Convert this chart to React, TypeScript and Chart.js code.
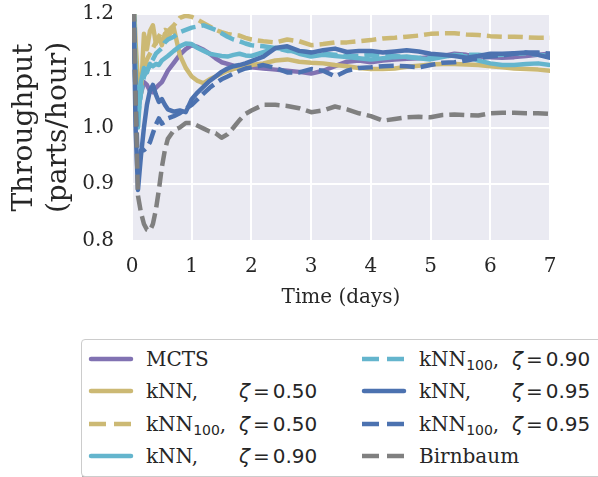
import React, { useEffect, useRef } from "react";
import { Chart, registerables } from "chart.js";

Chart.register(...registerables);

// ---------------- DATA ----------------
const times = [
  0.02, 0.06, 0.1, 0.15, 0.2, 0.25, 0.3, 0.35, 0.4, 0.45, 0.5, 0.55, 0.6, 0.7, 0.8, 0.9,
  1.0, 1.1, 1.2, 1.3, 1.4, 1.5, 1.6, 1.7, 1.8, 1.9, 2.0, 2.2, 2.4, 2.6, 2.8, 3.0,
  3.2, 3.4, 3.6, 3.8, 4.0, 4.2, 4.4, 4.6, 4.8, 5.0, 5.2, 5.4, 5.6, 5.8, 6.0, 6.2,
  6.4, 6.6, 6.8, 7.0,
];

const mcts = [
  1.25, 1.1, 1.03, 1.06, 1.08, 1.075, 1.065, 1.062, 1.07, 1.075, 1.08, 1.09, 1.1, 1.114, 1.128, 1.138,
  1.145, 1.142, 1.137, 1.13, 1.122, 1.115, 1.112, 1.109, 1.108, 1.107, 1.106, 1.104, 1.102, 1.1, 1.098, 1.095,
  1.1, 1.108, 1.116, 1.118, 1.115, 1.118, 1.12, 1.121, 1.122, 1.124, 1.126, 1.13, 1.128, 1.125, 1.124, 1.123,
  1.124, 1.126, 1.128, 1.13,
];

const knn50 = [
  1.25, 1.15, 1.08, 1.06, 1.165, 1.138, 1.17, 1.18, 1.148, 1.16, 1.145, 1.165, 1.16, 1.175, 1.128, 1.105,
  1.09, 1.082, 1.078, 1.085, 1.09, 1.095, 1.1, 1.103, 1.106, 1.108, 1.11, 1.113, 1.118, 1.12, 1.116, 1.114,
  1.113, 1.11, 1.108, 1.105, 1.103, 1.103, 1.104, 1.107, 1.109, 1.111, 1.112, 1.112, 1.111, 1.11, 1.108, 1.106,
  1.104, 1.103, 1.102, 1.1,
];

const knn100_50 = [
  1.25, 1.1, 1.05, 1.08, 1.1, 1.12, 1.13, 1.14, 1.15, 1.16, 1.17, 1.172, 1.17, 1.18, 1.193, 1.197,
  1.195, 1.19, 1.184, 1.178, 1.172, 1.168, 1.165, 1.163, 1.162, 1.158, 1.155, 1.152, 1.15, 1.155, 1.152, 1.145,
  1.147, 1.15, 1.15, 1.152, 1.154, 1.157, 1.158, 1.16, 1.162, 1.165, 1.166, 1.166, 1.164, 1.163, 1.161, 1.16,
  1.16, 1.159, 1.158, 1.158,
];

const knn90 = [
  1.25, 1.1, 1.0, 1.08, 1.105, 1.097, 1.112, 1.108, 1.112, 1.11, 1.118, 1.122, 1.126, 1.135, 1.143, 1.148,
  1.147, 1.14, 1.135, 1.13, 1.128, 1.126, 1.125, 1.128, 1.13, 1.127, 1.126, 1.133, 1.14, 1.138, 1.13, 1.125,
  1.128, 1.126, 1.124, 1.122, 1.12, 1.122, 1.124, 1.125, 1.122, 1.12, 1.124, 1.128, 1.125, 1.118, 1.113, 1.11,
  1.11, 1.112, 1.113, 1.11,
];

const knn100_90 = [
  1.25, 1.06, 1.02, 1.06, 1.09, 1.1, 1.11, 1.12, 1.13, 1.135, 1.14, 1.15, 1.155, 1.16, 1.168, 1.172,
  1.176, 1.178, 1.18, 1.176, 1.172, 1.166, 1.16, 1.155, 1.152, 1.148, 1.145, 1.143, 1.14, 1.135, 1.135, 1.132,
  1.13, 1.128, 1.126, 1.126, 1.128, 1.127, 1.126, 1.124, 1.123, 1.122, 1.125, 1.127, 1.128, 1.128, 1.127, 1.128,
  1.13, 1.131, 1.128, 1.126,
];

const knn95 = [
  1.25, 1.0, 0.89, 0.95, 1.0, 1.04, 1.065, 1.075, 1.058, 1.045, 1.05, 1.04, 1.032, 1.028, 1.03, 1.027,
  1.05, 1.062, 1.072, 1.082, 1.09, 1.098, 1.104, 1.108, 1.11, 1.113, 1.117, 1.125, 1.14, 1.143, 1.135, 1.132,
  1.136, 1.139, 1.133, 1.135, 1.135, 1.132, 1.134, 1.136, 1.134, 1.13, 1.128, 1.126, 1.123, 1.126, 1.13, 1.13,
  1.131, 1.132, 1.128, 1.123,
];

const knn100_95 = [
  1.25, 1.05, 0.93, 0.96, 0.96, 0.965, 0.974, 0.99, 1.005, 1.016, 1.007, 1.01, 1.016, 1.02, 1.025, 1.033,
  1.04, 1.05, 1.06, 1.07, 1.078, 1.085, 1.09, 1.095, 1.1, 1.104, 1.106, 1.11, 1.105, 1.097, 1.097, 1.103,
  1.1, 1.09, 1.1, 1.105, 1.106, 1.108, 1.109, 1.108, 1.106, 1.11, 1.114, 1.115, 1.118, 1.122, 1.125, 1.127,
  1.13, 1.132, 1.132, 1.13,
];

const birnbaum = [
  1.25, 1.05, 0.88, 0.85, 0.83, 0.82, 0.818, 0.83, 0.855, 0.89, 0.93, 0.96, 0.98, 0.995, 1.0, 1.008,
  1.008, 1.003, 0.998, 0.993, 0.99, 0.982, 0.988, 1.0, 1.013, 1.024, 1.03, 1.04, 1.04, 1.038, 1.034, 1.027,
  1.03, 1.037, 1.032, 1.025, 1.02, 1.012, 1.015, 1.018, 1.019, 1.018, 1.022, 1.023, 1.022, 1.021, 1.025, 1.026,
  1.026, 1.025, 1.025, 1.024,
];

const xTicks = [0, 1, 2, 3, 4, 5, 6, 7];
const yTicks = [0.8, 0.9, 1.0, 1.1, 1.2];

// ---------------- STYLE ----------------
const SERIES = [
  { name: "MCTS", sub: "", zeta: "", data: mcts, color: "#8172B2", dashed: false },
  { name: "kNN,", sub: "", zeta: "0.50", data: knn50, color: "#CCB974", dashed: false },
  { name: "kNN", sub: "100", zeta: "0.50", data: knn100_50, color: "#CCB974", dashed: true },
  { name: "kNN,", sub: "", zeta: "0.90", data: knn90, color: "#64B5CD", dashed: false },
  { name: "kNN", sub: "100", zeta: "0.90", data: knn100_90, color: "#64B5CD", dashed: true },
  { name: "kNN,", sub: "", zeta: "0.95", data: knn95, color: "#4C72B0", dashed: false },
  { name: "kNN", sub: "100", zeta: "0.95", data: knn100_95, color: "#4C72B0", dashed: true },
  { name: "Birnbaum", sub: "", zeta: "", data: birnbaum, color: "#808080", dashed: true },
];

const SERIF = "'DejaVu Serif', serif";
const SANS = "'DejaVu Sans', sans-serif";
const TEXT = "#262626";

const bgPlugin = {
  id: "plotBg",
  beforeDraw(chart: any) {
    const { ctx, chartArea: a } = chart;
    ctx.save();
    ctx.fillStyle = "#EAEAF2";
    ctx.fillRect(a.left, a.top, a.right - a.left, a.bottom - a.top);
    ctx.restore();
  },
};

function LegendItem({ s, x, y }: { s: any; x: number; y: number }) {
  return (
    <div style={{ position: "absolute", left: x, top: y - 16, height: 32, width: 270 }}>
      <svg width={46} height={32} style={{ position: "absolute", left: 0, top: 0 }}>
        <line
          x1={s.dashed ? 1 : 3}
          y1={16}
          x2={s.dashed ? 45 : 43}
          y2={16}
          stroke={s.color}
          strokeWidth={4.5}
          strokeLinecap={s.dashed ? "butt" : "round"}
          strokeDasharray={s.dashed ? "17 8" : undefined}
        />
      </svg>
      <div
        style={{
          position: "absolute",
          left: 58,
          top: 0,
          height: 32,
          lineHeight: "32px",
          fontFamily: SERIF,
          fontSize: 20,
          color: TEXT,
          whiteSpace: "nowrap",
        }}
      >
        {s.sub ? "kNN" : s.name}
        {s.sub ? (
          <span style={{ fontFamily: SANS, fontSize: 14, position: "relative", top: 4 }}>{s.sub}</span>
        ) : null}
        {s.sub ? "," : null}
      </div>
      {s.zeta ? (
        <div
          style={{
            position: "absolute",
            left: 151,
            top: 0,
            height: 32,
            lineHeight: "32px",
            fontFamily: SANS,
            fontSize: 20,
            color: TEXT,
            whiteSpace: "nowrap",
          }}
        >
          <span style={{ fontStyle: "italic" }}>ζ</span>
          <span style={{ marginLeft: 3, marginRight: 3 }}>=</span>
          {s.zeta}
        </div>
      ) : null}
    </div>
  );
}

export default function App() {
  const ref = useRef<HTMLCanvasElement | null>(null);

  useEffect(() => {
    if (!ref.current) return;
    const chart = new Chart(ref.current, {
      type: "line",
      data: {
        datasets: SERIES.map((s, i) => ({
          label: s.name + s.sub + (s.zeta ? " ζ=" + s.zeta : ""),
          data: times.map((t, k) => ({ x: t, y: s.data[k] })),
          borderColor: s.color,
          backgroundColor: s.color,
          borderWidth: 4.5,
          borderDash: s.dashed ? [15, 6] : [],
          borderCapStyle: s.dashed ? "butt" : "round",
          borderJoinStyle: "round",
          pointRadius: 0,
          tension: 0,
          fill: false,
          clip: 0,
          order: SERIES.length - i,
        })),
      },
      options: {
        animation: false,
        responsive: false,
        devicePixelRatio: 1,
        layout: { padding: { left: 0, right: 48, top: 14, bottom: 0 } },
        plugins: { legend: { display: false }, tooltip: { enabled: false } },
        scales: {
          x: {
            type: "linear",
            min: 0,
            max: 7,
            afterFit: (sc: any) => {
              sc.height = 80;
            },
            afterBuildTicks: (sc: any) => {
              sc.ticks = xTicks.map((v) => ({ value: v }));
            },
            ticks: {
              padding: 14,
              color: TEXT,
              font: { family: SERIF, size: 20 },
              callback: (v: any) => String(v),
              maxRotation: 0,
            },
            grid: { color: "#ffffff", lineWidth: 2, drawTicks: false },
            border: { display: false },
            title: {
              display: true,
              text: "Time (days)",
              color: TEXT,
              font: { family: SERIF, size: 20 },
              padding: { top: 0, bottom: 11 },
            },
          },
          y: {
            type: "linear",
            min: 0.8,
            max: 1.2,
            afterFit: (sc: any) => {
              sc.width = 132;
              sc.paddingTop = 0;
              sc.paddingBottom = 0;
            },
            afterBuildTicks: (sc: any) => {
              sc.ticks = yTicks.map((v) => ({ value: v }));
            },
            ticks: {
              padding: 18,
              color: TEXT,
              font: { family: SERIF, size: 20 },
              callback: (v: any) => Number(v).toFixed(1),
            },
            grid: { color: "#ffffff", lineWidth: 2, drawTicks: false },
            border: { display: false },
            title: {
              display: true,
              text: ["Throughput", "(parts/hour)"],
              color: TEXT,
              font: { family: SERIF, size: 28 },
              padding: { top: 8, bottom: 0 },
            },
          },
        },
      },
      plugins: [bgPlugin],
    } as any);
    return () => chart.destroy();
  }, []);

  const cols = [0, 273];
  const rows = [19, 51, 84, 116];

  return (
    <div
      style={{
        position: "fixed",
        left: 0,
        top: 0,
        width: 598,
        height: 477,
        background: "#ffffff",
        overflow: "hidden",
      }}
    >
      <canvas ref={ref} width={598} height={321} style={{ position: "absolute", left: 0, top: 0, width: 598, height: 321 }} />
      <div
        style={{
          position: "absolute",
          left: 81,
          top: 339,
          width: 540,
          height: 136,
          border: "1px solid #cccccc",
          borderRadius: 4,
          background: "#ffffff",
          boxShadow: "1px 2px 0 #9a9a9a",
        }}
      >
        {SERIES.map((s, i) => (
          <LegendItem key={i} s={s} x={6 + cols[Math.floor(i / 4)]} y={rows[i % 4]} />
        ))}
      </div>
    </div>
  );
}
